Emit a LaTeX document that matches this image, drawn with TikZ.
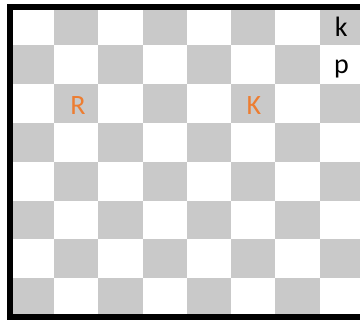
\documentclass[tikz,border=0pt]{standalone}
\usepackage{fontspec}
\setmainfont{Carlito}
\definecolor{sqgray}{RGB}{201,201,201}
\definecolor{pieceorange}{RGB}{237,125,49}
\begin{document}
\begin{tikzpicture}[x=1pt,y=-1pt,
  piece/.style={font=\fontsize{28}{28}\selectfont, anchor=base, inner sep=0pt},
  board/.style={line width=6pt, draw=black}]
\useasboundingbox (0,0) rectangle (360,320);
\clip (0,0) rectangle (360,320);
\fill[white] (0,0) rectangle (360,320);
\foreach \r in {0,...,7} {
  \foreach \c in {0,...,7} {
    \pgfmathtruncatemacro\odd{mod(\r+\c,2)}
    \ifnum\odd=1
      \fill[sqgray] ({9.7+44.3*\c},{6.7+38.79*\r}) rectangle ++(44.3,38.79);
    \fi
  }
}
\draw[board] (9.7,6.7) rectangle (364,317);
\node[piece, text=black] (bk) at (341.3,36.7) {k};
\node[piece, text=black] (bp) at (341.5,73.3) {p};
\node[piece, text=pieceorange] (wr) at (78,114.3) {R};
\node[piece, text=pieceorange] (wk) at (254,114.3) {K};
\end{tikzpicture}
\end{document}
